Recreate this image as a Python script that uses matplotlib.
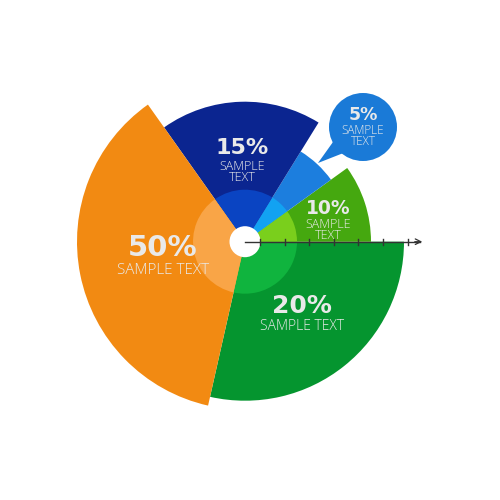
import matplotlib
matplotlib.use("Agg")
import matplotlib.pyplot as plt
from matplotlib.patches import Wedge, Circle, Polygon
import numpy as np

# ---- data ----
labels = ["20%", "10%", "5%", "15%", "50%"]
captions = ["SAMPLE TEXT", "SAMPLE\nTEXT", "SAMPLE\nTEXT", "SAMPLE\nTEXT", "SAMPLE TEXT"]
spans_deg = [102.7, 35.8, 22.5, 67.0, 132.0]   # angular extent
radii = [159, 126, 106, 140, 168]              # outer radius of each slice (px)
start_angle = -102.7
colors = ["#05952F", "#45A80F", "#1C7EDE", "#0B2590", "#F28A12"]
inner_colors = ["#10B43E", "#7ACF1C", "#12A2F2", "#0A44C2", "#F9A547"]
axis_ticks = [1, 2, 3, 4, 5, 6, 7]

fig = plt.figure(figsize=(5, 5), dpi=100)
ax = fig.add_axes([0, 0, 1, 1])
ax.set_xlim(0, 500)
ax.set_ylim(0, 500)
ax.set_aspect("equal")
ax.axis("off")

cx, cy = 245, 258.3
inner_r = 52

theta = start_angle
for span, r, c, ic in zip(spans_deg, radii, colors, inner_colors):
    ax.add_patch(Wedge((cx, cy), r, theta, theta + span, facecolor=c, edgecolor="none", zorder=2))
    ax.add_patch(Wedge((cx, cy), inner_r, theta, theta + span, facecolor=ic, edgecolor="none", zorder=3))
    theta += span

# callout bubble for 5%
bx, by, br = 363, 373, 34
bubble_col = "#1A7AD7"
ax.add_patch(Polygon([(318, 337), (333, 358), (346, 348)], closed=True,
                     facecolor=bubble_col, edgecolor="none", zorder=4))
ax.add_patch(Circle((bx, by), br, facecolor=bubble_col, edgecolor="none", zorder=4))

# centre hole
ax.add_patch(Circle((cx, cy), 15.5, facecolor="white", edgecolor="none", zorder=5))

# axis line with ticks
tick_step = 24.6
ax.plot([cx, 420], [cy, cy], color="#333333", lw=1.0, zorder=6)
ax.annotate("", xy=(425, cy), xytext=(412, cy),
            arrowprops=dict(arrowstyle="->", color="#333333", lw=0.9), zorder=6)
for t in axis_ticks:
    x = cx + 15 + (t - 1) * tick_step
    ax.plot([x, x], [cy - 3, cy + 3], color="#333333", lw=1.0, zorder=6)

# text
tc = "#E9E9E9"
pct_fam = ["DejaVu Sans"]
cap_fam = ["Open Sans", "DejaVu Sans"]
text_spec = [
    # (x, y_pct, size_pct, y_cap, size_cap)
    (302, 194, 18, 173, 10),
    (328, 291, 13.5, 270, 9),
    (363, 385, 12.5, 364, 8.5),
    (242, 352, 16, 328, 9),
    (163, 252.5, 21, 229, 11),
]
for (x, yp, sp, yc, sc), lab, cap in zip(text_spec, labels, captions):
    ax.text(x, yp, lab, ha="center", va="center", fontsize=sp, fontweight="bold",
            color=tc, family=pct_fam, zorder=7)
    ax.text(x, yc, cap, ha="center", va="center", fontsize=sc, color=tc,
            family=cap_fam, fontweight="light", linespacing=0.85, zorder=7)

fig.savefig("out.png", dpi=100)
